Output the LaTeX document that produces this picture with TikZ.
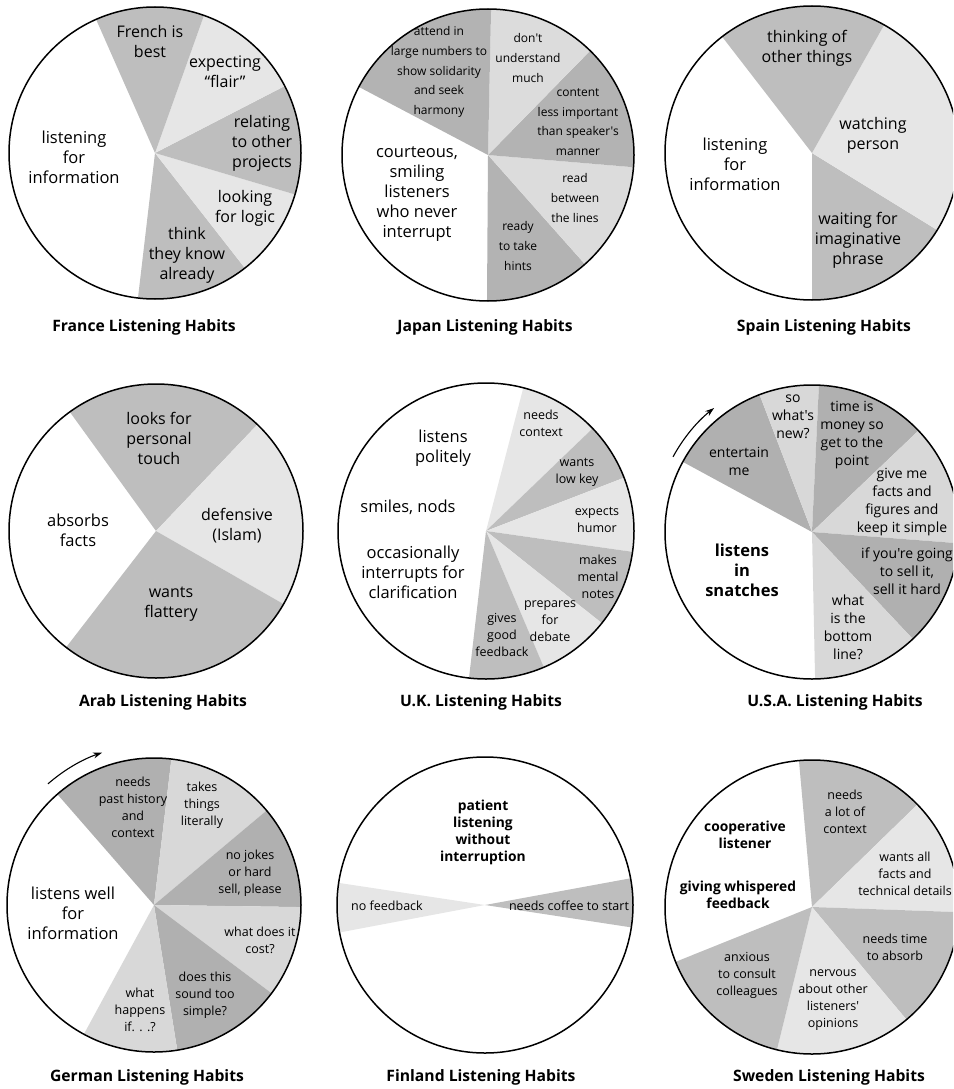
\documentclass[tikz,border=0pt]{standalone}
\usepackage{fontspec}
\newfontfamily\lf{Open Sans}
\usetikzlibrary{arrows.meta}

\definecolor{dk}{HTML}{BEBEBE}
\definecolor{lt}{HTML}{E6E6E6}
\definecolor{dkj}{HTML}{B3B3B3}
\definecolor{ltj}{HTML}{DCDCDC}
\definecolor{dku}{HTML}{B0B0B0}
\definecolor{ltu}{HTML}{D8D8D8}

% one wedge of a pie: centre, radius, start angle, end angle, fill
\newcommand{\pieslice}[5]{%
  \fill[#5] (#1) -- ++(#3:#2pt) arc[start angle=#3, end angle=#4, radius=#2pt] -- cycle;}

\tikzset{
  rim/.style={draw=black, line width=1.5pt},
  txt/.style={align=center, inner sep=0pt, text=black},
  big/.style={txt, font=\lf\fontsize{16.5}{20}\selectfont},
  mid/.style={txt, font=\lf\fontsize{16}{20}\selectfont},
  small/.style={txt, font=\lf\fontsize{12}{19.6}\selectfont},
  tight/.style={txt, font=\lf\fontsize{12.5}{17}\selectfont},
  usa/.style={txt, font=\lf\fontsize{14}{18}\selectfont},
  heavy/.style={txt, font=\lf\bfseries\fontsize{16.5}{20}\selectfont},
  heavysmall/.style={txt, font=\lf\bfseries\fontsize{13.8}{17}\selectfont},
  title/.style={txt, font=\lf\bfseries\fontsize{15.7}{18}\selectfont},
  turn/.style={line width=1.1pt, -{Stealth[length=9pt,width=6pt]}},
}

\begin{document}
\begin{tikzpicture}[x=1pt, y=1pt]
\useasboundingbox (0,0) rectangle (953,-1089);
\clip (0,0) rectangle (953,-1089);

% pie centres
\coordinate (fr) at (155,-153);
\coordinate (jp) at (488,-155);
\coordinate (es) at (812,-153);
\coordinate (ar) at (156,-531);
\coordinate (uk) at (486,-531);
\coordinate (us) at (812,-532);
\coordinate (de) at (154,-905);
\coordinate (fi) at (485,-905);
\coordinate (se) at (812,-907);

% ---------- France ----------
\pieslice{fr}{146}{-96.7}{-52}{dk}
\pieslice{fr}{146}{-52}{-16.5}{lt}
\pieslice{fr}{146}{-16.5}{27.3}{dk}
\pieslice{fr}{146}{27.3}{70.4}{lt}
\pieslice{fr}{146}{70.4}{113.8}{dk}
\draw[rim] (fr) circle[radius=146pt];
\node[big] (fr-main) at (74,-157) {listening\\for\\information};
\node[mid] (fr-best) at (150,-42) {French is\\best};
\node[mid] (fr-flair) at (225,-72) {expecting\\“flair”};
\node[mid] (fr-rel) at (262,-143) {relating\\to other\\projects};
\node[mid] (fr-logic) at (245,-208) {looking\\for logic};
\node[mid] (fr-know) at (187,-255) {think\\they know\\already};
\node[title] (fr-title) at (144,-327) {France Listening Habits};

% ---------- Japan ----------
\pieslice{jp}{146}{-90.4}{-48.4}{dkj}
\pieslice{jp}{146}{-48.4}{-4.8}{ltj}
\pieslice{jp}{146}{-4.8}{45.6}{dkj}
\pieslice{jp}{146}{45.6}{88.8}{ltj}
\pieslice{jp}{146}{88.8}{152.2}{dkj}
\draw[rim] (jp) circle[radius=146pt];
\node[big] (jp-main) at (417,-194) {courteous,\\smiling\\listeners\\who never\\interrupt};
\node[small] (jp-attend) at (439,-72) {attend in\\large numbers to\\show solidarity\\and seek\\harmony};
\node[small] (jp-dont) at (528,-58) {don't\\understand\\much};
\node[small] (jp-content) at (578,-122) {content\\less important\\than speaker's\\manner};
\node[small] (jp-read) at (575,-198) {read\\between\\the lines};
\node[small] (jp-hints) at (518,-246) {ready\\to take\\hints};
\node[title] (jp-title) at (485,-327) {Japan Listening Habits};

% ---------- Spain ----------
\pieslice{es}{147}{-90}{-31.6}{dk}
\pieslice{es}{147}{-31.6}{60.6}{lt}
\pieslice{es}{147}{60.6}{127.7}{dk}
\draw[rim] (es) circle[radius=147pt];
\node[mid] (es-think) at (807,-48) {thinking of\\other things};
\node[big] (es-main) at (735,-164) {listening\\for\\information};
\node[mid] (es-watch) at (873,-135) {watching\\person};
\node[mid] (es-wait) at (858,-240) {waiting for\\imaginative\\phrase};
\node[title] (es-title) at (824,-327) {Spain Listening Habits};

% ---------- Arab ----------
\pieslice{ar}{147}{46.4}{125.9}{dk}
\pieslice{ar}{147}{-29.8}{46.4}{lt}
\pieslice{ar}{147}{-127.7}{-29.8}{dk}
\draw[rim] (ar) circle[radius=147pt];
\node[mid] (ar-looks) at (159,-438) {looks for\\personal\\touch};
\node[big] (ar-main) at (78,-530) {absorbs\\facts};
\node[mid] (ar-def) at (237,-526) {defensive\\(Islam)};
\node[mid] (ar-flat) at (171,-604) {wants\\flattery};
\node[title] (ar-title) at (163,-702) {Arab Listening Habits};

% ---------- U.K. ----------
\pieslice{uk}{148}{43.9}{75.4}{lt}
\pieslice{uk}{148}{21.1}{43.9}{dk}
\pieslice{uk}{148}{-8.1}{21.1}{lt}
\pieslice{uk}{148}{-38.5}{-8.1}{dk}
\pieslice{uk}{148}{-67}{-38.5}{lt}
\pieslice{uk}{148}{-96.6}{-67}{dk}
\draw[rim] (uk) circle[radius=148pt];
\node[big] (uk-polite) at (443,-448) {listens\\politely};
\node[big] (uk-nods) at (408,-507) {smiles, nods};
\node[big] (uk-occ) at (413,-572) {occasionally\\interrupts for\\clarification};
\node[tight] (uk-ctx) at (541,-423) {needs\\context};
\node[tight] (uk-low) at (577,-472) {wants\\low key};
\node[tight] (uk-humor) at (597,-520) {expects\\humor};
\node[tight] (uk-notes) at (598,-577) {makes\\mental\\notes};
\node[tight] (uk-debate) at (550,-621) {prepares\\for\\debate};
\node[tight] (uk-fb) at (502,-635) {gives\\good\\feedback};
\node[title] (uk-title) at (481,-702) {U.K. Listening Habits};

% ---------- U.S.A. ----------
\pieslice{us}{147}{110.9}{151.5}{dku}
\pieslice{us}{147}{87.3}{110.9}{ltu}
\pieslice{us}{147}{43.6}{87.3}{dku}
\pieslice{us}{147}{-4.4}{43.6}{ltu}
\pieslice{us}{147}{-46.7}{-4.4}{dku}
\pieslice{us}{147}{-88.8}{-46.7}{ltu}
\draw[rim] (us) circle[radius=147pt];
\draw[turn] (us) ++(151.6:158pt) arc[start angle=151.6, end angle=128.3, radius=158pt];
\node[usa] (us-new) at (793,-417) {so\\what's\\new?};
\node[usa] (us-ent) at (739,-461) {entertain\\me};
\node[usa] (us-time) at (852,-435) {time is\\money so\\get to the\\point};
\node[usa] (us-facts) at (902,-502) {give me\\facts and\\figures and\\keep it simple};
\node[usa] (us-sell) at (907,-571) {if you're going\\to sell it,\\sell it hard};
\node[usa] (us-line) at (848,-627) {what\\is the\\bottom\\line?};
\node[heavy] (us-main) at (742,-570) {listens\\in\\snatches};
\node[title] (us-title) at (835,-702) {U.S.A. Listening Habits};

% ---------- Germany ----------
\pieslice{de}{147}{83.2}{131.1}{dku}
\pieslice{de}{147}{40}{83.2}{ltu}
\pieslice{de}{147}{-0.8}{40}{dku}
\pieslice{de}{147}{-36.9}{-0.8}{ltu}
\pieslice{de}{147}{-80.9}{-36.9}{dku}
\pieslice{de}{147}{-118.5}{-80.9}{ltu}
\draw[rim] (de) circle[radius=147pt];
\draw[turn] (de) ++(131.2:161pt) arc[start angle=131.2, end angle=108.8, radius=161pt];
\node[tight] (de-past) at (133,-807) {needs\\past history\\and\\context};
\node[tight] (de-lit) at (202,-805) {takes\\things\\literally};
\node[tight] (de-jokes) at (250,-873) {no jokes\\or hard\\sell, please};
\node[big] (de-main) at (73,-913) {listens well\\for\\information};
\node[tight] (de-cost) at (260,-940) {what does it\\cost?};
\node[tight] (de-simple) at (205,-995) {does this\\sound too\\simple?};
\node[tight] (de-if) at (140,-1010) {what\\happens\\if. . .?};
\node[title] (de-title) at (147,-1077) {German Listening Habits};

% ---------- Finland ----------
\pieslice{fi}{148}{171.4}{190.7}{lt}
\pieslice{fi}{148}{-8.7}{10.4}{dk}
\draw[rim] (fi) circle[radius=148pt];
\node[heavysmall] (fi-main) at (483,-832) {patient\\listening\\without\\interruption};
\node[tight] (fi-nofb) at (387,-906) {no feedback};
\node[tight] (fi-coffee) at (569,-906) {needs coffee to start};
\node[title] (fi-title) at (481,-1077) {Finland Listening Habits};

% ---------- Sweden ----------
\pieslice{se}{147}{44.2}{95.1}{dk}
\pieslice{se}{147}{-2}{44.2}{lt}
\pieslice{se}{147}{-50}{-2}{dk}
\pieslice{se}{147}{-103.8}{-50}{lt}
\pieslice{se}{147}{-158.1}{-103.8}{dk}
\draw[rim] (se) circle[radius=147pt];
\node[heavysmall] (se-coop) at (745,-835) {cooperative\\listener};
\node[heavysmall] (se-whisp) at (738,-895) {giving whispered\\feedback};
\node[tight] (se-ctx) at (845,-812) {needs\\a lot of\\context};
\node[tight] (se-facts) at (905,-874) {wants all\\facts and\\technical details};
\node[tight] (se-time) at (895,-947) {needs time\\to absorb};
\node[tight] (se-nerv) at (833,-1000) {nervous\\about other\\listeners'\\opinions};
\node[tight] (se-anx) at (747,-975) {anxious\\to consult\\colleagues};
\node[title] (se-title) at (829,-1077) {Sweden Listening Habits};
\end{tikzpicture}
\end{document}
